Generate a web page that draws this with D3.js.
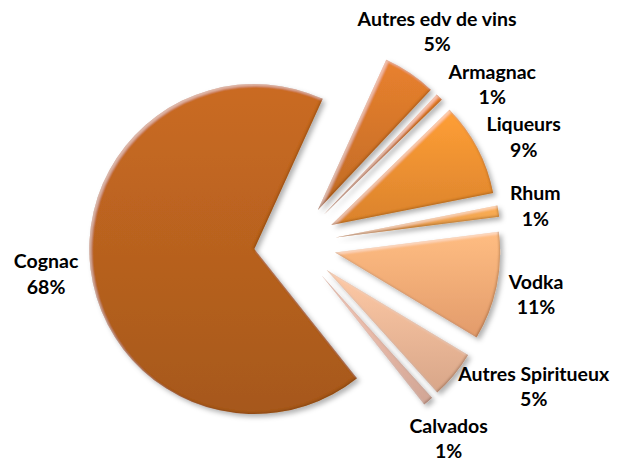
<!DOCTYPE html>
<meta charset="utf-8">
<style>
body { margin: 0; background: #fff; }
.label { font-family: Lato, "Open Sans", sans-serif; font-weight: bold; font-size: 19.5px; fill: #000; }
</style>
<svg width="619" height="465"></svg>
<script src="https://d3js.org/d3.v7.min.js"></script>
<script>

// parts of the market, in %
var categories = ["Autres edv de vins", "Armagnac", "Liqueurs", "Rhum", "Vodka", "Autres Spiritueux", "Calvados", "Cognac"];
var shares = [5.2, 0.7, 9.2, 1.1, 10.6, 4.7, 1.0, 67.5];

var svg = d3.select("svg"),
    cx = 295, cy = 244,
    radius = 165,
    explode = 41,
    labelRadius = 218;

var palette = d3.scaleOrdinal()
    .domain(categories)
    .range(["#d5762a", "#dc7b2c", "#f39131", "#f4a24f", "#fbad77", "#f0b998", "#e8b8a6", "#b9621f"]);

var deg = Math.PI / 180;
var pie = d3.pie()
    .sort(null)
    .value(function(d) { return d.value; })
    .startAngle(24.5 * deg)
    .endAngle(384.5 * deg);

var arc = d3.arc().innerRadius(0).outerRadius(radius);

var slices = pie(categories.map(function(c, i) { return {name: c, value: shares[i]}; }));

var defs = svg.append("defs");

// vertical gradient per slice, lighter on top
slices.forEach(function(d, i) {
  var base = d3.color(palette(d.data.name));
  var gr = defs.append("linearGradient")
      .attr("id", "grad" + i)
      .attr("x1", 0).attr("y1", 0).attr("x2", 0).attr("y2", 1);
  gr.append("stop").attr("offset", "0%").attr("stop-color", base.brighter(0.25));
  gr.append("stop").attr("offset", "100%").attr("stop-color", base.darker(0.3));
});

// soft bevel + shadow
var f = defs.append("filter").attr("id", "bevel")
    .attr("x", "-20%").attr("y", "-20%").attr("width", "140%").attr("height", "140%");
f.append("feGaussianBlur").attr("in", "SourceAlpha").attr("stdDeviation", 2.5).attr("result", "sblur");
f.append("feOffset").attr("in", "sblur").attr("dx", 2.5).attr("dy", 2.5).attr("result", "soff");
f.append("feFlood").attr("flood-color", "#000").attr("flood-opacity", 0.3).attr("result", "sfl");
f.append("feComposite").attr("in", "sfl").attr("in2", "soff").attr("operator", "in").attr("result", "shadow");
f.append("feGaussianBlur").attr("in", "SourceAlpha").attr("stdDeviation", 1.2).attr("result", "eblur");
f.append("feOffset").attr("in", "eblur").attr("dx", 1.5).attr("dy", 1.5).attr("result", "eoff1");
f.append("feComposite").attr("in", "SourceAlpha").attr("in2", "eoff1").attr("operator", "out").attr("result", "rimTL");
f.append("feFlood").attr("flood-color", "#fff").attr("flood-opacity", 0.4).attr("result", "hfl");
f.append("feComposite").attr("in", "hfl").attr("in2", "rimTL").attr("operator", "in").attr("result", "hl");
f.append("feOffset").attr("in", "eblur").attr("dx", -1.5).attr("dy", -1.5).attr("result", "eoff2");
f.append("feComposite").attr("in", "SourceAlpha").attr("in2", "eoff2").attr("operator", "out").attr("result", "rimBR");
f.append("feFlood").attr("flood-color", "#5a2a00").attr("flood-opacity", 0.5).attr("result", "dfl");
f.append("feComposite").attr("in", "dfl").attr("in2", "rimBR").attr("operator", "in").attr("result", "dk");
var m = f.append("feMerge");
["shadow", "SourceGraphic", "hl", "dk"].forEach(function(n) { m.append("feMergeNode").attr("in", n); });

var g = svg.append("g").attr("transform", "translate(" + cx + "," + cy + ")");

function mid(d) { return (d.startAngle + d.endAngle) / 2; }

g.selectAll(".slice")
  .data(slices)
  .join("path")
    .attr("class", "slice")
    .attr("d", arc)
    .attr("fill", function(d, i) { return "url(#grad" + i + ")"; })
    .attr("filter", "url(#bevel)")
    .attr("transform", function(d) {
      var a = mid(d);
      return "translate(" + (explode * Math.sin(a)) + "," + (-explode * Math.cos(a)) + ")";
    });

// labels: two lines, box pushed just outside the pie, then spread apart
var labels = g.selectAll(".label")
  .data(slices)
  .join("text")
    .attr("class", "label")
    .attr("text-anchor", "middle");

labels.append("tspan").attr("x", 0).attr("dy", 0).text(function(d) { return d.data.name; });
labels.append("tspan").attr("x", 0).attr("dy", "1.3em").text(function(d) { return Math.round(d.data.value) + "%"; });

var items = [];
labels.each(function(d) {
  var b = this.getBBox();
  items.push({node: this, a: mid(d), w: b.width, h: b.height, ox: b.x + b.width / 2, oy: b.y + b.height / 2});
});

// centre of the label box for angle a
function pos(it) {
  var s = Math.sin(it.a), c = Math.cos(it.a);
  return [labelRadius * s + it.w / 2 * s, -labelRadius * c - it.h / 2 * c];
}
function overlap(p, q) {
  var a = pos(p), b = pos(q);
  return Math.abs(a[0] - b[0]) < (p.w + q.w) / 2 + 6 && Math.abs(a[1] - b[1]) < (p.h + q.h) / 2 + 4;
}

for (var k = 0; k < 800; k++) {
  var moved = false;
  for (var i = 0; i < items.length - 1; i++) {
    if (overlap(items[i], items[i + 1])) {
      items[i].a -= 0.003;
      items[i + 1].a += 0.003;
      moved = true;
    }
  }
  if (!moved) break;
}

items.forEach(function(it) {
  var p = pos(it);
  d3.select(it.node).attr("transform", "translate(" + (p[0] - it.ox) + "," + (p[1] - it.oy) + ")");
});

</script>
